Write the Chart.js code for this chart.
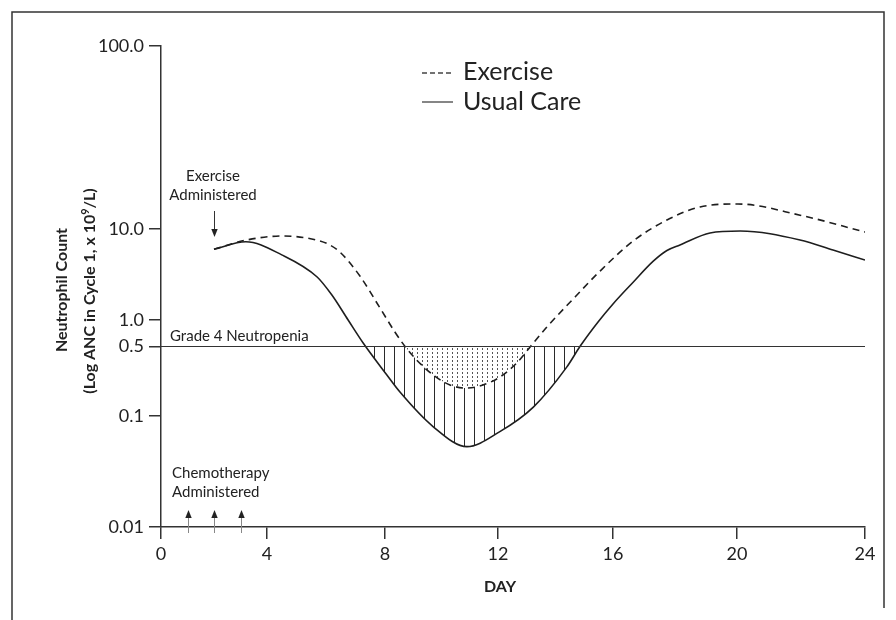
<!DOCTYPE html>
<html><head><meta charset="utf-8">
<script src="https://cdn.jsdelivr.net/npm/chart.js@4"></script>
<style>html,body{margin:0;padding:0;background:#fff}#wrap{width:896px;height:620px}</style>
</head><body><div id="wrap"><canvas id="c" width="896" height="620"></canvas></div>
<script>
// ---- data ----
const xTicks = [0, 4, 8, 12, 16, 20, 24];
const xTickLabels = ['0', '4', '8', '12', '16', '20', '24'];
const yTicks = [0.01, 0.1, 0.5, 1, 10, 100];
const yTickLabels = ['0.01', '0.1', '0.5', '1.0', '10.0', '100.0'];
const usualDays = [2, 3.2, 4.5, 5.7, 6.2, 6.75, 7.26, 8.06, 8.53, 9.71, 10.9, 12.05, 13.23, 14.39, 14.85, 15.48, 16, 16.65, 17.29, 17.74, 18.16, 19.13, 20.1, 21.97, 23, 24];
const usualANC = [6.0, 7.25, 5.2, 2.97, 1.88, 1.0, 0.548, 0.26, 0.174, 0.08, 0.053, 0.072, 0.123, 0.31, 0.5, 0.949, 1.5, 2.6, 4.4, 5.8, 6.67, 9.04, 9.5, 7.57, 5.88, 4.56];
const exerciseDays = [2, 3.23, 4.54, 5.68, 6.07, 6.47, 7.15, 7.83, 8.35, 8.71, 9.12, 9.71, 10.3, 10.89, 11.47, 12.07, 12.65, 13.13, 13.7, 14.68, 15.55, 16.65, 17.74, 18.81, 20.03, 21.97, 24];
const exerciseANC = [6.0, 7.57, 8.38, 7.57, 6.84, 5.59, 3.04, 1.355, 0.731, 0.5, 0.366, 0.258, 0.205, 0.191, 0.205, 0.247, 0.341, 0.5, 0.833, 1.79, 3.45, 7.38, 11.2, 13.2, 13.7, 11.9, 9.27];
const grade4Threshold = 0.5;
const chemoDays = [1, 2, 3];
const exerciseStartDay = 2;

// ---- custom segmented scale (schematic axis with uneven spacing) ----
class SegmentedScale extends Chart.LinearScale {
  determineDataLimits() { this.min = this.options.min; this.max = this.options.max; }
  buildTicks() { return this.options.tickValues.map(v => ({ value: v })); }
  _tf(v) { return this.options.logMode ? Math.log10(v) : v; }
  _frac(v) {
    const k = this.options.knots, t = this._tf(v);
    for (let i = 0; i < k.length - 1; i++) {
      const a = this._tf(k[i][0]), b = this._tf(k[i + 1][0]);
      if (t <= b || i === k.length - 2) return k[i][1] + (t - a) / (b - a) * (k[i + 1][1] - k[i][1]);
    }
  }
  getPixelForValue(v) { return this.getPixelForDecimal(this._frac(v)); }
  getValueForPixel(p) {
    const f = this.getDecimalForPixel(p), k = this.options.knots;
    for (let i = 0; i < k.length - 1; i++) {
      if (f <= k[i + 1][1] || i === k.length - 2) {
        const a = this._tf(k[i][0]), b = this._tf(k[i + 1][0]);
        const t = a + (f - k[i][1]) / (k[i + 1][1] - k[i][1]) * (b - a);
        return this.options.logMode ? Math.pow(10, t) : t;
      }
    }
  }
}
SegmentedScale.id = 'segmented';
SegmentedScale.defaults = {};
Chart.register(SegmentedScale);

// ---- layout constants ----
const AREA = { left: 161, right: 865, top: 46, bottom: 527 };
const H = AREA.bottom - AREA.top, W = AREA.right - AREA.left;
const yKnots = [[0.01, 0], [0.1, (527 - 416) / H], [0.5, (527 - 346.5) / H], [1, (527 - 320) / H], [10, (527 - 229) / H], [100, 1]];
const xKnots = [[0, 0], [4, (267 - 161) / W], [8, (385 - 161) / W], [12, (498 - 161) / W], [16, (613 - 161) / W], [20, (737 - 161) / W], [24, 1]];

const ctx0 = document.getElementById('c').getContext('2d');
function makePattern(w, h, draw) {
  const c = document.createElement('canvas'); c.width = w; c.height = h;
  const g = c.getContext('2d'); draw(g);
  return ctx0.createPattern(c, 'repeat');
}
const linePattern = makePattern(10, 10, g => { g.fillStyle = '#2a2a2a'; g.fillRect(4, 0, 1, 10); });
const dotPattern = makePattern(5, 4, g => { g.fillStyle = '#fff'; g.fillRect(0, 0, 5, 4); g.fillStyle = '#555'; g.fillRect(2, 0, 1, 2); });

const FONT = 'Lato, "Open Sans", "DejaVu Sans", sans-serif';
const INK = '#222';

function arrow(ctx, x, y1, y2, lineColor, headColor) {
  const dir = y2 > y1 ? 1 : -1;
  ctx.strokeStyle = lineColor; ctx.lineWidth = 1;
  ctx.beginPath(); ctx.moveTo(x, y1); ctx.lineTo(x, y2 - dir * 6); ctx.stroke();
  ctx.fillStyle = headColor;
  ctx.beginPath(); ctx.moveTo(x, y2); ctx.lineTo(x - 3.2, y2 - dir * 8); ctx.lineTo(x + 3.2, y2 - dir * 8); ctx.closePath(); ctx.fill();
}

const decor = {
  id: 'decor',
  afterDraw(chart) {
    const ctx = chart.ctx, xs = chart.scales.x, ys = chart.scales.y;
    ctx.save();
    // frame
    ctx.strokeStyle = '#333'; ctx.lineWidth = 1.5;
    ctx.beginPath(); ctx.moveTo(12, 620); ctx.lineTo(12, 12); ctx.lineTo(884, 12); ctx.lineTo(884, 608); ctx.stroke();

    // legend
    ctx.lineWidth = 1.3; ctx.strokeStyle = '#444';
    ctx.setLineDash([5, 3]);
    ctx.beginPath(); ctx.moveTo(422, 73); ctx.lineTo(453, 73); ctx.stroke();
    ctx.setLineDash([]);
    ctx.beginPath(); ctx.moveTo(422, 102); ctx.lineTo(453, 102); ctx.stroke();
    ctx.fillStyle = INK; ctx.font = '25px ' + FONT; ctx.textAlign = 'left'; ctx.textBaseline = 'middle';
    ctx.fillText('Exercise', 463, 72);
    ctx.fillText('Usual Care', 463, 102);

    // annotations
    ctx.font = '15px ' + FONT; ctx.textAlign = 'center';
    const ex = xs.getPixelForValue(exerciseStartDay);
    ctx.fillText('Exercise', 213, 176);
    ctx.fillText('Administered', 213, 195);
    arrow(ctx, Math.round(ex) + 0.5, 211, 237, '#333', '#222');

    ctx.textAlign = 'left';
    ctx.fillText('Grade 4 Neutropenia', 170, ys.getPixelForValue(grade4Threshold) - 10);
    ctx.fillText('Chemotherapy', 172, 473);
    ctx.fillText('Administered', 172, 492);
    chemoDays.forEach(d => arrow(ctx, Math.round(xs.getPixelForValue(d)) + 0.5, 533, 510, '#888', '#222'));

    // axis titles
    ctx.font = 'bold 16px ' + FONT; ctx.textAlign = 'center'; ctx.fillStyle = INK;
    ctx.fillText('DAY', 500, 587);
    ctx.save();
    ctx.translate(62, 290); ctx.rotate(-Math.PI / 2);
    ctx.fillText('Neutrophil Count', 0, 0);
    ctx.restore();
    ctx.save();
    ctx.translate(90, 291); ctx.rotate(-Math.PI / 2);
    const p1 = '(Log ANC in Cycle 1, x 10', sup = '9', p2 = '/L)';
    ctx.font = 'bold 16px ' + FONT; const w1 = ctx.measureText(p1).width, w3 = ctx.measureText(p2).width;
    ctx.font = 'bold 11px ' + FONT; const w2 = ctx.measureText(sup).width;
    const x0 = -(w1 + w2 + w3) / 2;
    ctx.textAlign = 'left';
    ctx.font = 'bold 16px ' + FONT; ctx.fillText(p1, x0, 0);
    ctx.font = 'bold 11px ' + FONT; ctx.fillText(sup, x0 + w1, -5);
    ctx.font = 'bold 16px ' + FONT; ctx.fillText(p2, x0 + w1 + w2, 0);
    ctx.restore();
    ctx.restore();
  }
};

const toXY = (xs, ys) => xs.map((x, i) => ({ x, y: ys[i] }));

new Chart(ctx0, {
  type: 'line',
  data: {
    datasets: [
      {
        label: 'Grade 4 Neutropenia',
        data: [{ x: xTicks[0], y: grade4Threshold }, { x: xTicks[xTicks.length - 1], y: grade4Threshold }],
        borderColor: '#333', borderWidth: 1.2, pointRadius: 0, fill: false, order: 0
      },
      {
        label: 'Exercise',
        data: toXY(exerciseDays, exerciseANC),
        borderColor: '#1e1e1e', borderWidth: 1.6, borderDash: [7, 5], pointRadius: 0,
        cubicInterpolationMode: 'monotone',
        fill: { target: { value: grade4Threshold }, above: 'rgba(0,0,0,0)', below: dotPattern },
        order: 1
      },
      {
        label: 'Usual Care',
        data: toXY(usualDays, usualANC),
        borderColor: '#1e1e1e', borderWidth: 1.6, pointRadius: 0,
        cubicInterpolationMode: 'monotone',
        fill: { target: { value: grade4Threshold }, above: 'rgba(0,0,0,0)', below: linePattern },
        order: 2
      }
    ]
  },
  options: {
    responsive: false, animation: false, devicePixelRatio: 1,
    layout: { padding: { left: 0, top: AREA.top, right: 896 - AREA.right, bottom: 0 } },
    plugins: { legend: { display: false }, tooltip: { enabled: false } },
    scales: {
      x: {
        type: 'segmented', position: 'bottom', min: 0, max: 24,
        tickValues: xTicks, knots: xKnots, logMode: false,
        afterFit: s => { s.height = 620 - AREA.bottom; },
        grid: { display: true, drawOnChartArea: false, drawTicks: true, tickLength: 12, color: '#333', lineWidth: 1.5 },
        border: { display: true, color: '#333', width: 1.5 },
        ticks: { autoSkip: false, maxRotation: 0, padding: 4, color: INK, font: { family: FONT, size: 18 },
          callback: v => xTickLabels[xTicks.indexOf(v)] }
      },
      y: {
        type: 'segmented', position: 'left', min: 0.01, max: 100,
        tickValues: yTicks, knots: yKnots, logMode: true,
        afterFit: s => { s.width = AREA.left; },
        grid: { display: true, drawOnChartArea: false, drawTicks: true, tickLength: 12, color: '#333', lineWidth: 1.5 },
        border: { display: true, color: '#333', width: 1.5 },
        ticks: { autoSkip: false, padding: 5, color: INK, font: { family: FONT, size: 18 },
          callback: v => yTickLabels[yTicks.indexOf(v)] }
      }
    }
  },
  plugins: [decor]
});
</script>
</body></html>
